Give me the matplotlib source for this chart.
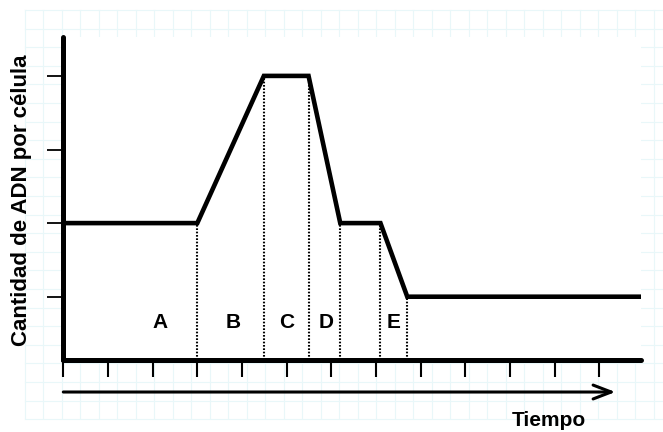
import matplotlib
matplotlib.use('Agg')
import matplotlib.pyplot as plt
import numpy as np

# datos
tiempo = [0, 3.0, 4.49, 5.49, 6.2, 7.1, 7.7, 12.93]
adn = [2, 2, 4, 4, 2, 2, 1, 1]
limites = [3.0, 4.49, 5.49, 6.2, 7.1, 7.7]
fases = ['A', 'B', 'C', 'D', 'E']
pos_fases = [2.16, 3.8, 5.01, 5.88, 7.4]
ticks_x = list(range(13))
ticks_y = [1, 2, 3, 4]

W, H = 663, 432
plt.rcParams['font.family'] = ['Liberation Sans', 'DejaVu Sans']

fig = plt.figure(figsize=(W / 100, H / 100), dpi=100)

# papel cuadriculado de fondo
bg = fig.add_axes([0, 0, 1, 1], zorder=0)
bg.set_xlim(0, W)
bg.set_ylim(H, 0)
bg.axis('off')
for gx in np.arange(24.5, W, 18.5):
    bg.plot([gx, gx], [10, 418], color='#e9f7f9', lw=0.8)
for gy in np.arange(10, 420, 18.6):
    bg.plot([24.5, W], [gy, gy], color='#e9f7f9', lw=0.8)

# ejes principales (1 unidad x = 44.67 px, 1 unidad y = 73.6 px)
x0, x1 = 63.3, 641
y0, y1 = 360, 37
ax = fig.add_axes([x0 / W, 1 - y0 / H, (x1 - x0) / W, (y0 - y1) / H], zorder=1)
ax.set_xlim(0, (x1 - x0) / 44.67)
ax.set_ylim((370.3 - y0) / 73.6, (370.3 - y1) / 73.6)

ax.plot(tiempo, adn, color='black', lw=3.3, solid_capstyle='round',
        solid_joinstyle='miter', zorder=3)

for xl in limites:
    nivel = np.interp(xl, tiempo, adn)
    ax.plot([xl, xl], [ax.get_ylim()[0], nivel], color='black', lw=1.5,
            linestyle=(0, (0.8, 0.8)), zorder=2)

for f, xp in zip(fases, pos_fases):
    ax.text(xp, 0.645, f, ha='center', va='center', fontsize=15,
            fontweight='bold')

for s in ['top', 'right']:
    ax.spines[s].set_visible(False)
for s in ['left', 'bottom']:
    ax.spines[s].set_linewidth(3.6)
    ax.spines[s].set_capstyle('round')

ax.set_xticks(ticks_x)
ax.set_yticks(ticks_y)
ax.tick_params(axis='x', direction='out', length=12, width=1.5,
               labelbottom=False)
ax.tick_params(axis='y', direction='out', length=11.5, width=1.3,
               labelleft=False)

# flecha del tiempo
ax.annotate('', xy=(12.36, -0.295), xytext=(0, -0.295),
            arrowprops=dict(arrowstyle='->, head_length=1.3, head_width=0.5',
                            lw=2.2, color='black', shrinkA=0, shrinkB=0),
            annotation_clip=False)

fig.text(549 / W, 1 - 411 / H, 'Tiempo', ha='center', va='top',
         fontsize=15, fontweight='bold')
fig.text(22 / W, 1 - 200 / H, 'Cantidad de ADN por célula', rotation=90,
         ha='center', va='center', fontsize=16, fontweight='bold')

plt.savefig('out.png', dpi=100)
